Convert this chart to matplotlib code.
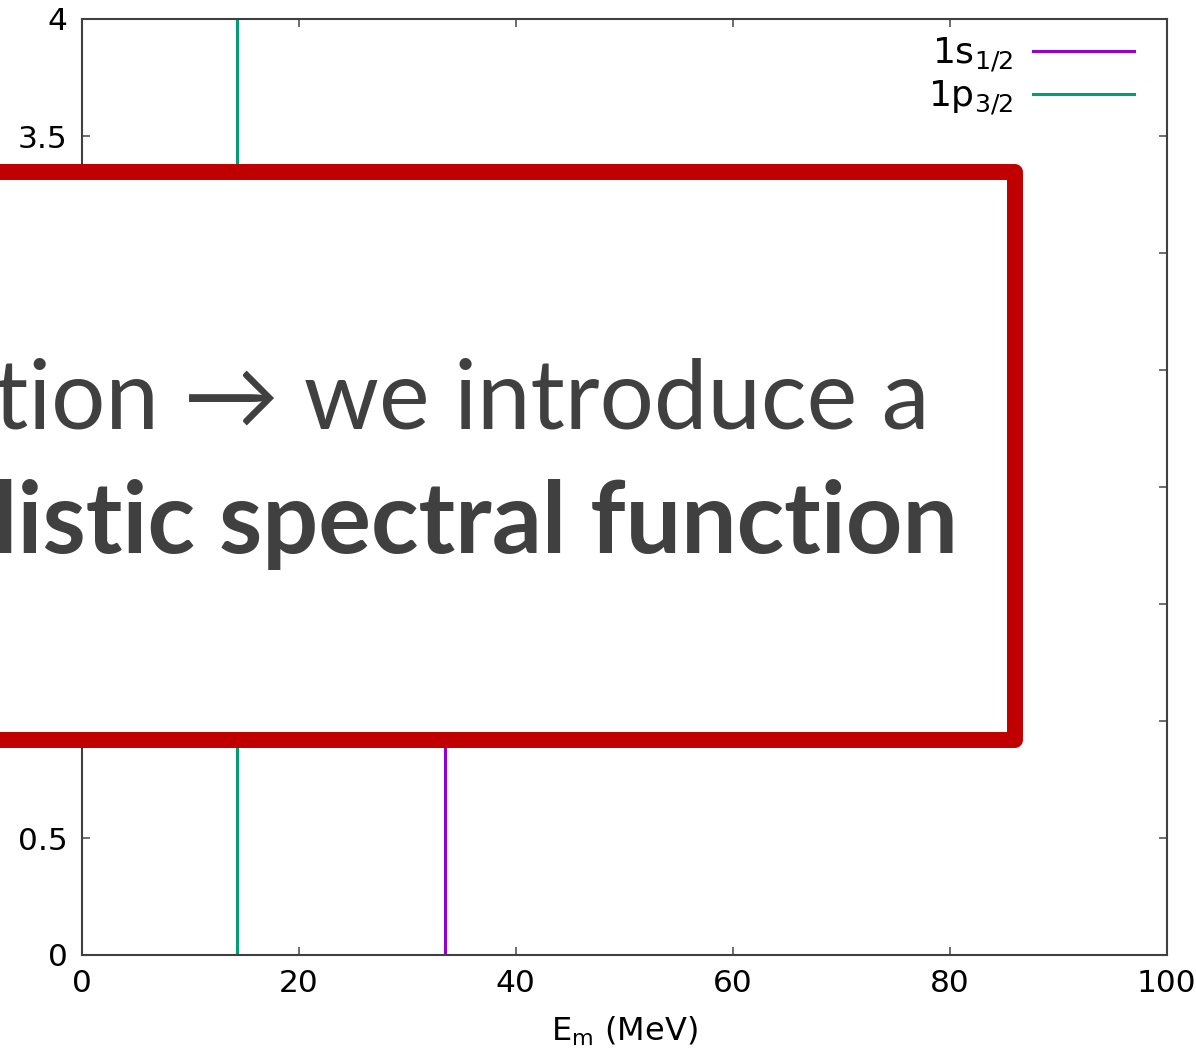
import matplotlib
matplotlib.use("Agg")
import matplotlib.pyplot as plt
from matplotlib.patches import Rectangle

# shell energies (MeV) and occupations
states = [r'1s$_{1/2}$', r'1p$_{3/2}$']
energies = [33.5, 14.3]
heights = [2.0, 4.0]
colors = ['#9400d3', '#009e73']

xticks = [0, 20, 40, 60, 80, 100]
yticks = [0, 0.5, 1, 1.5, 2, 2.5, 3, 3.5, 4]
ylabels = ['0', '0.5', '', '', '', '', '', '3.5', '4']

W, H = 1196, 1048
fig = plt.figure(figsize=(W / 100, H / 100), dpi=100)
ax = fig.add_axes([81.7 / W, 1 - 955 / H, (1166.7 - 81.7) / W, (955 - 19) / H])

for name, e, h, c in zip(states, energies, heights, colors):
    ax.plot([e, e], [0, h], color=c, lw=2.2, label=name)

ax.set_xlim(0, 100)
ax.set_ylim(0, 4)
ax.set_xticks(xticks)
ax.set_xticklabels([str(t) for t in xticks])
ax.set_yticks(yticks)
ax.set_yticklabels(ylabels)
ax.tick_params(direction='in', length=6, width=1.2, color='#555555',
               labelsize=22.5, top=True, right=True, pad=10)
for s in ax.spines.values():
    s.set_linewidth(1.5)
    s.set_color('#404040')
ax.set_xlabel(r'E$_\mathrm{m}$ (MeV)', fontsize=23, labelpad=12)

leg = ax.legend(loc='upper right', frameon=False, markerfirst=False,
                fontsize=26, handlelength=2.8, handletextpad=0.55,
                labelspacing=0.15, borderaxespad=0.0,
                bbox_to_anchor=(1 - 18 / 1085, 1 - 2 / 936))

# slide annotation box on top of the plot
box = Rectangle((-40, H - 740), 1015 + 40, 740 - 172, transform=None,
                facecolor='white', edgecolor='#c00000', lw=11.5,
                joinstyle='round', zorder=10)
fig.patches.append(box)

fig.text(930 / W, 1 - 428 / H, 'tion \u2192 we introduce a',
         family=['Lato', 'DejaVu Sans'], fontsize=69, color='#404040',
         ha='right', va='baseline', zorder=11)
fig.text(958 / W, 1 - 553 / H, 'listic spectral function',
         family=['Lato', 'DejaVu Sans'], fontsize=71, fontweight='bold',
         color='#404040', ha='right', va='baseline', zorder=11)

fig.savefig('out.png', dpi=100)
